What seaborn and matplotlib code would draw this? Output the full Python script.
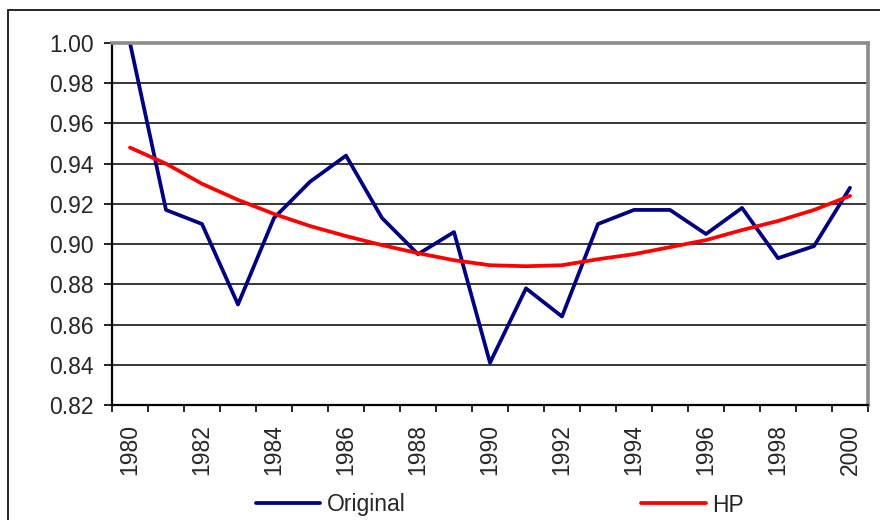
import numpy as np
import pandas as pd
import matplotlib.pyplot as plt
import matplotlib.patches as mpatches
from matplotlib.ticker import MultipleLocator, FixedLocator
import seaborn as sns

years = list(range(1980, 2001))
original = [1.000, 0.917, 0.910, 0.870, 0.913, 0.931, 0.944, 0.913, 0.895, 0.906,
            0.841, 0.878, 0.864, 0.910, 0.917, 0.917, 0.905, 0.918, 0.893, 0.899, 0.928]
hp = [0.948, 0.940, 0.930, 0.922, 0.915, 0.909, 0.904, 0.8995, 0.8955, 0.892,
      0.8895, 0.889, 0.8895, 0.8925, 0.895, 0.8985, 0.902, 0.907, 0.9115, 0.917, 0.924]

df = pd.DataFrame({
    "idx": list(range(len(years))) * 2,
    "value": original + hp,
    "series": ["Original"] * len(years) + ["HP"] * len(years),
})

sns.set_style("white")
plt.rcParams["font.family"] = ["Liberation Sans", "DejaVu Sans"]
fs = 16.5

fig = plt.figure(figsize=(8.8, 5.2), dpi=100)
ax = fig.add_axes([112 / 880, 1 - 405 / 520, 756 / 880, 362 / 520])

sns.lineplot(data=df, x="idx", y="value", hue="series",
             palette={"Original": "#000080", "HP": "#ff0000"},
             linewidth=2.7, ax=ax, legend=True)

ax.set_xlim(-0.5, len(years) - 0.5)
ax.set_ylim(0.82, 1.00)
ax.yaxis.set_major_locator(MultipleLocator(0.02))
ax.yaxis.set_major_formatter(plt.FormatStrFormatter("%.2f"))
ax.set_xticks(range(0, len(years), 2))
ax.set_xticklabels([str(y) for y in years[::2]], rotation=90)
ax.xaxis.set_minor_locator(FixedLocator(np.arange(-0.5, len(years), 1)))
ax.tick_params(axis="x", which="major", length=0, pad=14, labelsize=fs)
ax.tick_params(axis="x", which="minor", length=5, width=1.2, color="black",
               direction="out", bottom=True)
ax.tick_params(axis="y", length=6, width=1.2, color="black", direction="out",
               left=True, labelsize=fs, pad=7)
ax.grid(axis="y", color="black", linewidth=1.1)
ax.set_axisbelow(True)
ax.set_xlabel("")
ax.set_ylabel("")

for side in ["left", "bottom"]:
    ax.spines[side].set_color("black")
    ax.spines[side].set_linewidth(1.6)
for side in ["top", "right"]:
    ax.spines[side].set_color("#8c8c8c")
    ax.spines[side].set_linewidth(2.6)

handles, labels = ax.get_legend_handles_labels()
ax.legend(handles, labels, loc="center", bbox_to_anchor=(0.568, 1 - 505 / 520),
          bbox_transform=fig.transFigure, ncol=2, frameon=False, fontsize=fs,
          handlelength=2.8, handletextpad=0.3, columnspacing=10.3)

fig.add_artist(mpatches.Rectangle((8 / 880, -0.2), 1.2, 1.2 - 10 / 520,
                                  transform=fig.transFigure, fill=False,
                                  edgecolor="black", linewidth=1.2, clip_on=False))

fig.savefig("out.png", dpi=100, facecolor="white")
